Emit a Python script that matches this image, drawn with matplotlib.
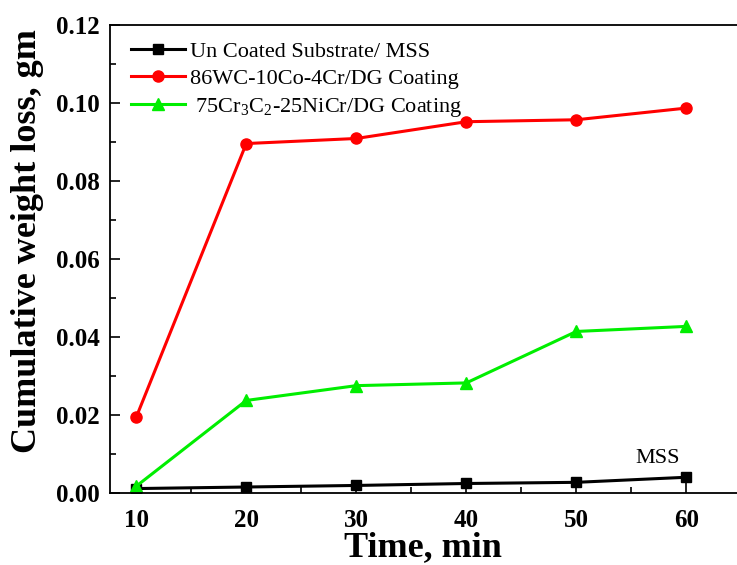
import matplotlib
matplotlib.use('Agg')
import matplotlib.pyplot as plt
from matplotlib.ticker import MultipleLocator

time = [10, 20, 30, 40, 50, 60]
mss = [0.0012, 0.0016, 0.002, 0.0025, 0.0028, 0.0041]
wc_coat = [0.0195, 0.0897, 0.091, 0.0953, 0.0958, 0.0988]
crc_coat = [0.0018, 0.0238, 0.0276, 0.0283, 0.0415, 0.0428]

labels = ['Un Coated Substrate/ MSS',
          '86WC-10Co-4Cr/DG Coating',
          ' 75Cr$_3$C$_2$-25NiCr/DG Coating']

plt.rcParams['font.family'] = 'Liberation Serif'
plt.rcParams['mathtext.fontset'] = 'custom'
plt.rcParams['mathtext.rm'] = 'Liberation Serif'

fig = plt.figure(figsize=(7.37, 5.65), dpi=100)
ax = fig.add_axes([0.149, 0.127, 0.851, 0.828])

ax.plot(time, mss, color='black', marker='s', ms=7, lw=2.2, label=labels[0])
ax.plot(time, wc_coat, color='red', marker='o', ms=8, lw=2.2, label=labels[1])
ax.plot(time, crc_coat, color='#00ee00', marker='^', ms=8, lw=2.2, label=labels[2])

ax.set_xlim(7.6, 64.6)
ax.set_ylim(0, 0.12)
ax.xaxis.set_major_locator(MultipleLocator(10))
ax.xaxis.set_minor_locator(MultipleLocator(5))
ax.yaxis.set_major_locator(MultipleLocator(0.02))
ax.yaxis.set_minor_locator(MultipleLocator(0.01))
ax.yaxis.set_major_formatter(plt.FormatStrFormatter('%.2f'))
ax.tick_params(which='both', direction='in', labelsize=18, width=1.2)
ax.tick_params(which='major', length=7)
ax.tick_params(which='minor', length=4)
ax.tick_params(axis='x', which='major', pad=11)
ax.tick_params(axis='y', which='major', pad=7)
for lbl in ax.get_xticklabels() + ax.get_yticklabels():
    lbl.set_fontweight('bold')
ax.spines['right'].set_visible(False)
for s in ['left', 'bottom', 'top']:
    ax.spines[s].set_linewidth(1.3)

ax.set_xlabel('Time, min', fontsize=26, fontweight='bold', labelpad=0)
ax.set_ylabel('Cumulative weight loss, gm', fontsize=26, fontweight='bold')
ax.yaxis.set_label_coords(-0.105, 0.54)

ax.annotate('MSS', xy=(60, mss[-1]), xytext=(55.4, 0.0078), fontsize=16)

ax.legend(loc='upper left', frameon=False, fontsize=16, handlelength=2.4,
          borderaxespad=0, labelspacing=0.3, handletextpad=0.25,
          bbox_to_anchor=(0.02, 0.985))

fig.savefig('out.png', dpi=100)
